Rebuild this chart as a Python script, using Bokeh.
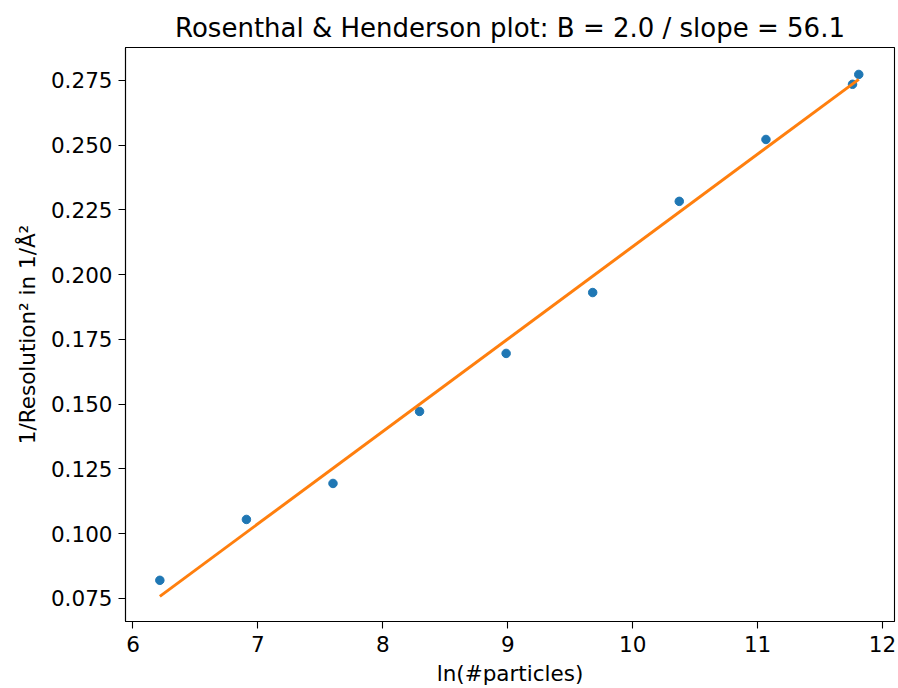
from bokeh.plotting import figure
from bokeh.models import Range1d, FixedTicker, PrintfTickFormatter
from bokeh.embed import file_html
from bokeh.resources import INLINE

# data
ln_particles = [6.215, 6.908, 7.601, 8.294, 8.987, 9.680, 10.373, 11.067, 11.760, 11.810]
inv_res_sq = [0.0820, 0.1055, 0.1194, 0.1472, 0.1696, 0.1931, 0.2283, 0.2522, 0.2735, 0.2773]

fit_x = [6.215, 11.810]
fit_y = [0.0758, 0.2754]

x_ticks = [6, 7, 8, 9, 10, 11, 12]
y_ticks = [0.075, 0.100, 0.125, 0.150, 0.175, 0.200, 0.225, 0.250, 0.275]

title_text = "Rosenthal & Henderson plot: B = 2.0 / slope = 56.1"
x_label = "ln(#particles)"
y_label = "1/Resolution² in 1/Å²"

FONT = "DejaVu Sans"

p = figure(width=898, height=688, output_backend="svg", toolbar_location=None,
           x_range=Range1d(5.94, 12.096), y_range=Range1d(0.0661, 0.2877),
           min_border_left=125, min_border_right=4, min_border_top=47, min_border_bottom=67,
           title=title_text)

p.title.text_font = FONT
p.title.text_font_size = "26px"
p.title.text_font_style = "normal"
p.title.align = "center"
p.title.text_color = "black"

p.xgrid.visible = False
p.ygrid.visible = False
p.outline_line_color = "black"
p.outline_line_width = 1.1
p.background_fill_color = "white"
p.border_fill_color = "white"

for ax in (p.xaxis[0], p.yaxis[0]):
    ax.axis_line_color = "black"
    ax.axis_line_width = 1.1
    ax.major_tick_line_color = "black"
    ax.major_tick_line_width = 1.1
    ax.major_tick_out = 7
    ax.major_tick_in = 0
    ax.minor_tick_line_color = None
    ax.major_label_text_font = FONT
    ax.major_label_text_font_size = "21.5px"
    ax.major_label_text_color = "black"
    ax.axis_label_text_font = FONT
    ax.axis_label_text_font_size = "21.5px"
    ax.axis_label_text_font_style = "normal"
    ax.axis_label_text_color = "black"

p.xaxis.ticker = FixedTicker(ticks=x_ticks)
p.yaxis.ticker = FixedTicker(ticks=y_ticks)
p.yaxis.formatter = PrintfTickFormatter(format="%.3f")
p.xaxis.axis_label = x_label
p.yaxis.axis_label = y_label
p.xaxis.major_label_standoff = 7
p.yaxis.major_label_standoff = 6
p.xaxis.axis_label_standoff = 6
p.yaxis.axis_label_standoff = 8

p.scatter(ln_particles, inv_res_sq, size=8.5, fill_color="#1f77b4", line_color="#1f77b4")
p.line(fit_x, fit_y, line_color="#ff7f0e", line_width=3)

open("out.html", "w").write(file_html(p, INLINE))
